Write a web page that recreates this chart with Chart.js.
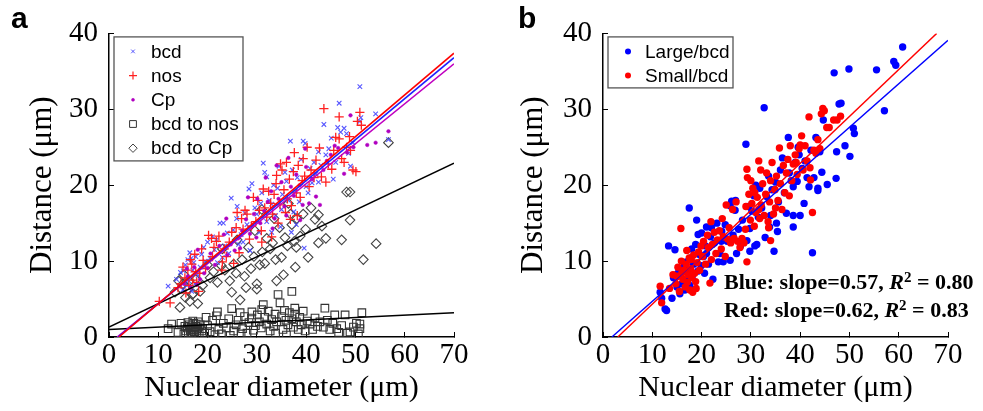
<!DOCTYPE html>
<html><head><meta charset="utf-8">
<script src="https://cdn.jsdelivr.net/npm/chart.js@4.4.1/dist/chart.umd.min.js"></script>
<style>
html,body{margin:0;padding:0;background:#fff;width:983px;height:411px;overflow:hidden;}
#wa{position:absolute;left:0;top:0;width:491px;height:411px;}
#wb{position:absolute;left:491px;top:0;width:492px;height:411px;}
</style></head><body>
<div id="wa"><canvas id="ca"></canvas></div>
<div id="wb"><canvas id="cb"></canvas></div>
<script>
// ---------- axis ticks ----------
const xTickValues = [0, 10, 20, 30, 40, 50, 60, 70];
const yTickValues = [0, 10, 20, 30, 40];

// ---------- panel a ----------
const bcdPoints = [[14.5,8.5],[15.1,8.7],[13.7,7.6],[15.5,9.5],[16.0,10.2],[16.4,11.1],[16.7,10.4],[17.2,9.8],[17.6,10.6],[18.1,8.1],[16.2,7.4],[15.8,6.8],[17.0,8.8],[18.5,9.2],[15.0,6.2],[16.8,6.0],[12.0,6.7],[17.5,7.0],[18.8,10.9],[19.2,11.8],
[20.0,12.5],[20.5,10.4],[21.0,13.2],[21.4,11.5],[22.0,9.8],[22.5,15.0],[23.2,15.0],[23.5,12.0],[24.0,13.7],[24.8,18.3],[25.2,14.1],[25.9,15.6],[26.3,12.2],[26.8,13.5],[27.2,12.5],[27.6,16.3],[28.4,19.5],[28.6,11.4],[28.0,14.8],[24.3,11.0],[21.8,12.8],[19.5,10.0],[23.0,10.5],[26.0,17.2],
[29.2,14.8],[29.6,17.0],[30.0,16.2],[30.5,13.8],[31.0,19.0],[31.3,22.9],[31.6,21.7],[32.0,21.1],[32.0,15.2],[32.5,18.0],[33.0,17.5],[33.4,20.0],[33.8,16.0],[34.2,19.6],[34.5,22.5],[34.8,14.5],[35.2,18.8],[35.7,21.7],[35.0,16.8],[33.0,13.8],[30.8,17.6],[29.0,20.2],
[36.0,20.5],[36.4,18.0],[36.8,25.8],[37.2,22.0],[37.5,16.5],[37.8,19.2],[38.2,21.0],[38.6,17.8],[39.0,23.4],[39.4,25.8],[39.8,25.5],[39.6,11.7],[40.0,19.8],[40.4,19.0],[40.8,22.2],[41.2,20.3],[41.6,23.0],[42.0,21.5],[42.5,24.4],[42.5,20.4],[38.0,14.8],[37.0,13.8],
[43.0,22.6],[43.6,28.0],[44.0,24.0],[44.6,24.8],[45.1,26.2],[45.5,20.8],[46.4,27.6],[46.7,30.8],[47.0,27.0],[47.7,27.5],[48.2,26.8],[48.6,24.2],[49.0,22.5],[50.9,33.0],[50.9,28.4],[51.1,28.9],[54.1,29.4],[56.7,26.0],[49.5,25.6],[46.0,23.0]];

const nosPoints = [[12.4,4.5],[10.2,4.7],[14.0,6.5],[15.4,7.8],[15.0,9.2],[16.0,8.8],[16.5,10.2],[17.0,7.5],[17.8,7.2],[18.2,6.0],[16.8,9.6],[15.6,5.8],[17.4,10.9],[18.8,11.6],[19.1,10.1],[18.4,8.4],[16.2,6.8],[19.6,9.0],[14.6,7.0],[17.6,8.6],
[20.2,13.4],[20.8,13.0],[21.3,11.8],[21.8,12.6],[22.3,13.3],[22.9,8.8],[23.4,11.6],[23.8,10.6],[24.4,12.5],[24.9,13.8],[25.3,9.7],[25.8,14.4],[26.4,11.1],[26.9,15.6],[27.2,14.2],[27.6,16.7],[28.0,16.2],[28.5,12.9],[28.9,14.6],[29.3,18.4],[29.8,15.2],[21.0,10.6],[23.0,9.9],[26.0,16.4],
[30.2,18.0],[30.5,16.7],[30.9,14.0],[31.3,19.5],[31.6,17.0],[32.0,15.8],[32.4,19.2],[32.8,17.6],[33.2,16.2],[33.5,18.8],[33.9,20.2],[34.0,21.3],[34.3,15.0],[34.7,17.4],[35.1,22.0],[35.5,19.4],[35.8,16.4],[36.0,23.0],[36.2,18.2],[31.0,12.5],[33.0,13.2],[34.8,22.8],
[36.6,20.8],[37.0,17.3],[37.4,21.8],[37.6,24.3],[38.0,19.0],[38.4,22.6],[38.8,18.4],[39.2,20.6],[39.4,23.5],[39.7,21.2],[40.2,25.0],[40.6,19.8],[41.0,22.0],[41.6,21.0],[42.0,23.3],[42.7,24.9],[43.1,21.1],[43.6,30.1],[44.0,20.4],[44.5,22.8],[38.2,16.0],[36.8,15.5],
[45.2,22.1],[45.6,24.6],[46.0,26.3],[46.7,29.0],[46.7,26.1],[47.2,23.5],[47.7,23.0],[48.2,25.0],[48.8,26.4],[49.5,22.0],[50.1,21.8],[50.4,28.4],[50.9,29.6],[51.2,27.9],[49.0,24.6]];

const cpPoints = [[15.2,7.0],[16.0,8.0],[16.6,6.5],[17.3,9.2],[17.9,6.9],[18.5,7.6],[15.8,9.0],[19.3,8.4],[20.6,11.0],[21.5,9.5],[22.4,12.0],[23.3,13.5],[24.0,10.8],[24.7,12.2],[25.5,11.4],[26.2,13.0],[27.0,14.0],[27.8,15.5],[28.6,13.6],[29.4,16.2],[30.1,18.2],[30.7,15.0],[31.5,16.6],[32.2,17.8],[32.9,19.2],[33.6,15.6],[34.4,18.2],[35.0,20.4],[35.6,17.2],[36.4,23.6],[36.9,19.8],[37.5,18.6],[38.0,21.4],[38.7,20.0],[39.3,17.4],[40.0,22.4],[40.6,17.6],[41.2,20.8],[42.0,18.5],[42.8,17.4],[43.5,22.0],[44.2,23.2],[45.0,24.0],[45.8,25.2],[46.5,24.9],[47.7,21.5],[48.3,24.3],[49.0,29.2],[49.6,25.0],[52.4,25.3],[54.1,25.6],[56.7,27.1],[26.6,11.7],[29.9,13.1],[33.2,14.3],[36.0,16.0],[38.8,15.4],[20.0,9.1],[18.0,11.5],[23.8,15.6],[28.2,18.4],[31.8,21.0],[34.0,22.6],[39.8,24.8]];

const bcdToNosPoints = [[15.6,0.8],[15.9,1.2],[16.1,0.5],[16.3,1.6],[16.5,0.9],[16.7,1.3],[16.9,0.6],[17.1,1.0],[17.2,1.8],[17.4,0.7],[17.6,1.4],[17.8,0.9],[18.0,1.2],[18.3,0.4],[18.5,1.6],[16.0,1.9],[17.0,2.1],[18.8,0.8],[15.4,1.4],[16.6,0.3],[17.3,0.3],[18.1,2.0],[19.0,1.1],[19.4,0.5],[15.2,0.4],[17.7,1.7],
[12.0,1.1],[12.7,1.7],[14.0,0.6],[14.6,1.8],[20.0,1.5],[20.5,0.7],[21.0,2.2],[21.8,2.8],[22.3,1.0],[22.8,0.4],[23.2,1.8],[23.8,1.2],[24.3,2.4],[24.9,3.75],[25.3,0.8],[25.8,1.6],[26.2,2.2],[26.6,3.2],[27.1,1.1],[27.5,2.7],[28.0,0.5],[28.4,1.9],[28.9,2.5],[29.3,0.9],[29.7,1.5],[30.1,2.9],[30.5,2.0],[30.9,1.2],[31.3,4.25],[31.6,2.6],[32.0,1.7],[32.3,3.4],[32.7,0.8],[33.0,2.3],[33.4,1.4],[33.7,3.0],[34.0,2.0],[34.3,5.6],[34.7,4.5],[35.0,2.7],[35.3,1.0],[35.6,3.5],[35.9,2.2],[36.0,0.25],[36.3,1.6],[36.6,3.2],[37.1,6.0],[37.1,2.4],[37.4,1.3],[37.7,3.8],[37.7,3.0],[38.0,2.0],[38.4,1.0],[38.7,2.6],[39.0,1.6],[39.4,3.4],[39.8,0.8],[40.2,2.1],[40.8,1.7],[41.3,1.0],[41.8,2.5],[42.3,1.4],[42.8,2.0],[43.5,1.3],[43.8,3.8],[44.3,2.2],[44.8,1.0],[45.4,1.8],[46.2,1.1],[46.6,0.6],[47.2,1.5],[47.9,2.9],[48.4,0.5],[48.9,0.67],[49.6,1.3],[50.2,1.8],[50.9,1.7],[50.9,1.1],[51.3,3.2],[50.6,0.4],[45.8,2.9],[31.0,3.6],[29.0,3.3],[26.8,0.4],[21.5,0.3],[24.6,0.2],[33.8,0.5],[19.7,2.6],[22.0,3.3]];

const bcdToCpPoints = [[13.4,5.9],[14.1,7.4],[14.4,3.9],[15.0,7.0],[15.5,5.2],[16.0,6.3],[16.4,4.7],[16.9,5.6],[17.1,5.7],[17.6,7.6],[18.0,4.4],[18.5,6.0],[16.3,7.4],[15.2,8.2],[19.0,6.8],[20.5,7.8],[21.2,8.6],[22.0,7.2],[22.8,9.4],[23.5,8.8],[24.5,7.4],[24.9,5.9],[25.3,9.6],[25.8,8.4],[26.6,4.9],[27.0,10.2],[27.5,8.0],[28.3,11.8],[28.8,9.0],[29.4,10.6],[30.0,7.0],[30.0,6.3],[30.6,9.5],[31.1,11.2],[31.6,9.7],[32.0,13.0],[32.7,11.6],[33.2,12.4],[33.8,10.2],[34.0,7.4],[34.6,14.4],[35.0,10.5],[35.4,8.2],[35.7,13.1],[36.2,12.0],[36.8,16.2],[37.1,14.8],[37.6,12.6],[38.1,15.6],[38.8,13.3],[38.0,11.8],[39.4,16.2],[39.9,14.2],[40.4,10.5],[41.0,17.0],[41.8,15.5],[42.5,16.1],[42.5,12.4],[43.2,14.6],[44.0,13.0],[47.2,12.8],[48.2,19.1],[48.9,19.1],[48.9,15.4],[51.6,10.2],[54.2,12.3],[56.7,25.6],[26.0,12.8],[29.6,14.0],[33.5,15.6],[36.4,17.6],[31.0,16.8],[27.8,6.5],[23.0,11.6],[20.0,9.5],[37.8,9.2]];

// fitted lines (end points)
const fitBcdA = [[1.85,0],[70,36.8]];
const fitNosA = [[2.0,0],[70,37.4]];
const fitCpA = [[1.65,0],[70,36.0]];
const fitBcdToNosA = [[0,1.0],[70,3.2]];
const fitBcdToCpA = [[0,1.3],[70,22.9]];

// ---------- panel b ----------
const largePoints = [[11.6,5.9],[11.9,5.1],[12.6,3.7],[12.9,3.5],[13.3,12.0],[14.0,5.1],[14.3,7.8],[14.6,11.5],[15.0,6.6],[15.6,5.7],[15.2,8.4],[16.0,7.0],[16.3,9.2],[16.6,6.2],[17.0,8.8],[17.5,17.0],[17.6,6.8],[17.8,10.4],[18.1,8.0],[18.4,9.6],[18.8,12.2],[19.0,15.4],[19.3,13.5],[19.3,8.7],[19.7,10.8],[18.0,11.6],[16.9,9.9],[15.8,8.9],[17.2,7.5],[19.9,9.4],
[20.0,13.7],[20.4,10.6],[20.8,12.0],[21.0,14.5],[21.0,11.0],[21.4,9.6],[21.8,13.2],[22.3,7.6],[22.6,12.4],[23.1,15.0],[23.4,9.9],[23.7,11.0],[24.1,13.9],[24.4,9.9],[24.8,14.8],[25.2,12.6],[25.8,17.3],[25.8,10.1],[26.1,17.9],[26.4,13.4],[26.8,16.7],[27.1,11.0],[27.5,14.2],[27.9,12.0],[28.3,15.4],[22.0,14.4],[20.6,8.4],[24.0,12.6],[26.9,18.0],
[29.0,25.4],[29.2,12.7],[29.5,17.2],[29.8,14.3],[29.8,11.3],[30.2,16.6],[30.6,18.6],[30.8,12.0],[31.2,12.2],[31.5,15.8],[31.8,19.6],[32.2,17.0],[32.7,30.2],[32.9,13.1],[33.2,18.5],[33.6,21.2],[34.0,16.0],[34.3,19.4],[34.7,11.3],[35.0,20.4],[35.2,15.0],[35.6,17.8],[36.0,22.0],[36.4,23.6],[36.8,19.0],[37.2,16.3],[37.6,26.3],[37.8,21.6],[33.8,14.5],[31.0,20.0],[35.4,13.9],
[38.2,20.6],[38.6,19.8],[38.6,14.5],[38.6,16.0],[39.0,23.0],[39.4,20.5],[39.8,24.0],[40.0,16.0],[40.4,22.2],[40.8,17.6],[41.4,21.0],[41.8,19.8],[42.2,24.6],[42.5,11.1],[42.8,21.0],[43.2,26.3],[43.6,19.6],[43.6,19.3],[44.0,24.4],[44.4,21.7],[44.7,28.6],[45.5,20.1],[39.6,25.0],[41.0,23.2],
[46.9,34.8],[47.3,20.9],[47.4,24.4],[47.9,30.7],[48.3,30.8],[49.1,25.2],[49.9,35.3],[50.1,23.8],[50.8,27.5],[51.0,26.8],[55.5,35.2],[57.1,29.8],[59.0,36.3],[59.4,35.8],[60.8,38.2]];

const smallPoints = [[11.6,6.7],[11.9,4.5],[13.5,6.4],[14.2,8.2],[14.8,7.0],[15.2,9.2],[15.5,6.0],[15.8,14.3],[15.9,10.0],[16.2,7.6],[16.4,8.8],[16.7,6.6],[16.9,9.6],[17.1,7.2],[17.3,8.2],[17.5,10.4],[17.6,6.2],[17.8,9.0],[18.0,7.8],[18.2,5.9],[18.4,10.8],[18.6,8.4],[18.9,6.4],[19.1,9.8],[19.4,11.2],[19.6,8.8],[19.9,12.0],[16.0,8.4],[17.0,11.4],[18.8,7.3],[15.0,8.0],[17.9,10.2],
[20.2,10.6],[20.4,12.6],[20.8,9.6],[21.2,13.4],[21.4,11.8],[21.7,7.1],[21.9,15.2],[22.2,12.2],[22.6,13.8],[22.9,11.0],[23.2,12.8],[23.6,14.0],[24.0,11.6],[24.4,13.2],[24.8,10.6],[25.0,17.4],[25.3,12.9],[25.6,14.4],[25.9,12.4],[26.3,16.8],[26.6,13.0],[27.0,17.8],[27.3,12.6],[27.8,11.8],[28.2,13.0],[28.6,12.4],[28.9,14.2],[24.2,15.6],[22.0,10.2],
[29.0,17.2],[29.2,9.9],[29.2,22.1],[29.3,21.0],[29.6,18.8],[29.9,15.4],[30.2,17.6],[30.4,19.6],[30.7,14.6],[31.0,16.4],[31.3,18.4],[31.6,23.2],[31.8,15.6],[32.1,17.4],[32.4,20.2],[32.7,16.0],[33.0,18.8],[33.2,21.6],[33.5,15.2],[33.8,17.8],[34.0,12.7],[34.0,20.6],[34.3,23.0],[34.6,16.2],[34.9,19.4],[35.2,21.2],[35.5,18.0],[35.8,24.9],[36.0,20.2],[36.3,16.8],[36.6,22.6],[36.9,19.0],[37.2,21.6],[37.5,23.4],[30.0,20.6],[32.0,22.0],[33.6,14.4],[35.0,17.0],[31.6,16.8],[30.8,19.0],
[38.0,25.2],[38.3,20.6],[38.6,22.8],[39.0,24.0],[39.4,21.4],[39.8,24.8],[40.0,25.3],[40.3,26.5],[40.6,22.0],[41.0,25.2],[41.4,23.2],[41.8,29.0],[42.0,22.3],[42.1,20.7],[42.5,16.4],[42.8,24.6],[43.2,24.2],[43.6,26.0],[44.0,24.8],[44.3,29.4],[44.6,30.1],[44.9,29.8],[45.4,27.6],[45.9,27.6],[46.8,28.6],[47.5,28.6],[48.2,29.1],[39.2,23.0],[37.8,18.6]];

const fitLargeB = [[1.8,0],[70,39.1]];
const fitSmallB = [[3.0,0],[67.7,40]];

const annotLines = [
  {label:'Blue: slope=0.57, ', r2:' = 0.80'},
  {label:'Red: slope=0.62, ', r2:' = 0.83'}
];

// ---------- helpers ----------
const SERIF = "'Liberation Serif','Times New Roman',serif";
const SANS = "'Liberation Sans',Arial,sans-serif";
const toXY = arr => arr.map(p => ({x:p[0], y:p[1]}));

function makeScales(yWidth){
  return {
    x: {type:'linear', min:0, max:70, position:'bottom',
      afterBuildTicks: s => { s.ticks = xTickValues.map(v => ({value:v})); },
      ticks:{color:'#000', font:{family:SERIF, size:29}, padding:6, maxRotation:0, autoSkip:false},
      grid:{drawOnChartArea:false, tickLength:-5, color:'#000', tickColor:'#000', lineWidth:1},
      border:{display:true, color:'#000', width:1.5},
      title:{display:true, text:'Nuclear diameter (μm)', color:'#000', font:{family:SERIF, size:30}, padding:{top:0, bottom:5}},
      afterFit: s => { s.height = 74; }
    },
    y: {type:'linear', min:0, max:40, position:'left',
      afterBuildTicks: s => { s.ticks = yTickValues.map(v => ({value:v})); },
      ticks:{color:'#000', font:{family:SERIF, size:29}, padding:16},
      grid:{drawOnChartArea:false, tickLength:-5, color:'#000', tickColor:'#000', lineWidth:1},
      border:{display:true, color:'#000', width:1.5},
      title:{display:true, text:'Distance (μm)', color:'#000', font:{family:SERIF, size:31}, padding:{top:24, bottom:0}},
      afterFit: s => { s.width = yWidth; }
    }
  };
}

function pointSet(label, pts, style, color, radius, fill, bw, order){
  return {label, data:toXY(pts), pointStyle:style, pointRadius:radius, pointHoverRadius:radius,
    borderColor:color, backgroundColor: fill ? color : 'rgba(0,0,0,0)', pointBorderWidth:bw, borderWidth:bw,
    showLine:false, order};
}
function lineSet(label, pts, color, width){
  return {label, data:toXY(pts), type:'line', showLine:true, pointRadius:0, borderColor:color, borderWidth:width,
    fill:false, tension:0, order:0};
}

function drawSymbol(ctx, style, color, radius, fill, bw, x, y){
  ctx.save();
  ctx.strokeStyle = color; ctx.fillStyle = fill ? color : 'rgba(0,0,0,0)'; ctx.lineWidth = bw;
  Chart.helpers.drawPoint(ctx, {pointStyle:style, radius, rotation:0, borderWidth:bw}, x, y);
  ctx.restore();
}

function legendPlugin(items, boxW, boxH, symDx, textDx){
  return {id:'boxLegend', afterDraw(chart){
    const ctx = chart.ctx, ca = chart.chartArea;
    const bx = ca.left + 5, by = ca.top + 3.5;
    ctx.save();
    ctx.fillStyle = '#fff'; ctx.fillRect(bx, by, boxW, boxH);
    ctx.strokeStyle = '#555'; ctx.lineWidth = 1.3; ctx.strokeRect(bx, by, boxW, boxH);
    ctx.font = '19px ' + SANS; ctx.textBaseline = 'middle'; ctx.textAlign = 'left';
    items.forEach((it, i) => {
      const cy = by + 14.5 + i * 24.2;
      drawSymbol(ctx, it.style, it.color, it.radius, it.fill, it.bw, ca.left + symDx, cy);
      ctx.fillStyle = '#000'; ctx.fillText(it.label, ca.left + textDx, cy + 1);
    });
    ctx.restore();
  }};
}

function panelLabel(text, x){
  return {id:'panelLabel', afterDraw(chart){
    const ctx = chart.ctx; ctx.save();
    ctx.font = 'bold 30px ' + SANS; ctx.fillStyle = '#000'; ctx.textBaseline = 'alphabetic';
    ctx.fillText(text, x, 28); ctx.restore();
  }};
}

const annotPlugin = {id:'annot', afterDraw(chart){
  const ctx = chart.ctx, ca = chart.chartArea; ctx.save();
  ctx.fillStyle = '#000'; ctx.textBaseline = 'middle'; ctx.textAlign = 'left';
  annotLines.forEach((ln, i) => {
    let x = ca.left + 121, y = 283 + i * 28;
    ctx.font = 'bold 22px ' + SERIF; ctx.fillText(ln.label, x, y); x += ctx.measureText(ln.label).width;
    ctx.font = 'italic bold 22px ' + SERIF; ctx.fillText('R', x, y); x += ctx.measureText('R').width;
    ctx.font = 'bold 15px ' + SERIF; ctx.fillText('2', x, y - 5); x += ctx.measureText('2').width;
    ctx.font = 'bold 22px ' + SERIF; ctx.fillText(ln.r2, x, y);
  });
  ctx.restore();
}};

const baseOptions = (yWidth, padRight) => ({
  responsive:true, maintainAspectRatio:false, animation:false, devicePixelRatio:1,
  layout:{padding:{left:0, right:padRight, top:20, bottom:0}, autoPadding:false},
  plugins:{legend:{display:false}, tooltip:{enabled:false}},
  scales: makeScales(yWidth)
});

// ---------- chart a ----------
new Chart(document.getElementById('ca'), {
  type:'scatter',
  data:{datasets:[
    lineSet('fit nos', fitNosA, '#ff0000', 1.6),
    lineSet('fit bcd', fitBcdA, '#2020ff', 1.6),
    lineSet('fit Cp', fitCpA, '#c000c0', 1.6),
    lineSet('fit bcd to nos', fitBcdToNosA, '#000', 1.5),
    lineSet('fit bcd to Cp', fitBcdToCpA, '#000', 1.5),
    pointSet('Cp', cpPoints, 'circle', '#b000c0', 1.8, true, 0.5, 1),
    pointSet('nos', nosPoints, 'cross', '#ff2020', 4.6, false, 1.3, 2),
    pointSet('bcd', bcdPoints, 'crossRot', 'rgba(70,70,255,0.9)', 3.2, false, 1.1, 3),
    pointSet('bcd to Cp', bcdToCpPoints, 'rectRot', '#444', 4.8, false, 1.1, 4),
    pointSet('bcd to nos', bcdToNosPoints, 'rect', '#333', 5.4, false, 1.1, 5)
  ]},
  options: baseOptions(109, 37),
  plugins:[
    legendPlugin([
      {label:'bcd', style:'crossRot', color:'rgba(70,70,255,0.9)', radius:2.6, fill:false, bw:1},
      {label:'nos', style:'cross', color:'#ff2020', radius:4, fill:false, bw:1.2},
      {label:'Cp', style:'circle', color:'#b000c0', radius:1.5, fill:true, bw:0.5},
      {label:'bcd to nos', style:'rect', color:'#333', radius:4.8, fill:false, bw:1},
      {label:'bcd to Cp', style:'rectRot', color:'#444', radius:4.2, fill:false, bw:1}
    ], 129, 124, 24, 42),
    panelLabel('a', 11)
  ]
});

// ---------- chart b ----------
new Chart(document.getElementById('cb'), {
  type:'scatter',
  data:{datasets:[
    lineSet('fit Small/bcd', fitSmallB, '#ff0000', 1.4),
    lineSet('fit Large/bcd', fitLargeB, '#0000ff', 1.4),
    pointSet('Small/bcd', smallPoints, 'circle', '#ff0000', 3.7, true, 0, 1),
    pointSet('Large/bcd', largePoints, 'circle', '#0000ff', 3.7, true, 0, 2)
  ]},
  options: baseOptions(112, 35),
  plugins:[
    legendPlugin([
      {label:'Large/bcd', style:'circle', color:'#0000ff', radius:3, fill:true, bw:0},
      {label:'Small/bcd', style:'circle', color:'#ff0000', radius:3, fill:true, bw:0}
    ], 125, 51, 25, 42),
    panelLabel('b', 27),
    annotPlugin
  ]
});
</script>
</body></html>
